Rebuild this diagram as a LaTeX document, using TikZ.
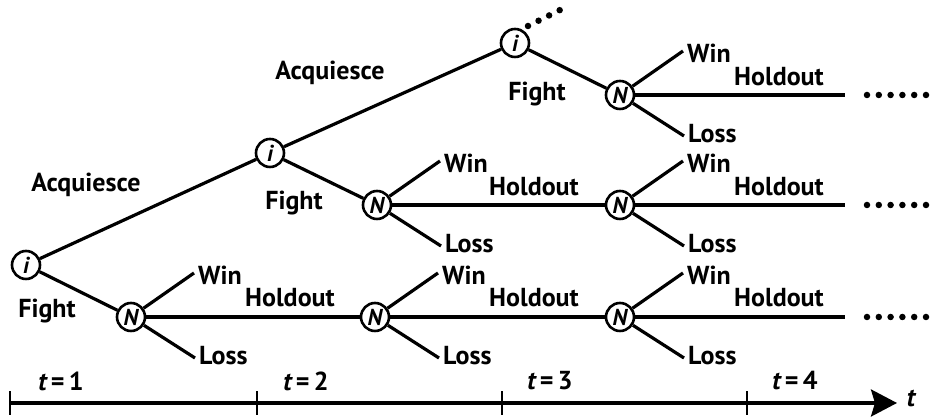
\documentclass[tikz,border=0pt]{standalone}
\usepackage{fontspec}
\setmainfont{PT Sans}
\usepackage{tikz}
\usetikzlibrary{arrows,arrows.meta,positioning}

\tikzset{
  player/.style={draw, circle, line width=2.6pt, inner sep=0pt, minimum size=28pt, font=\fontsize{23}{23}\selectfont\bfseries\itshape},
  branch/.style={line width=3.2pt},
  lab/.style={inner sep=0pt, font=\fontsize{26}{26}\selectfont\bfseries},
  more/.style={line width=6.5pt, line cap=round, dash pattern=on 0pt off 11.8pt}
}

\begin{document}
\begin{tikzpicture}[x=1pt,y=1pt]
  \useasboundingbox (0,0) rectangle (930,419);
  % decision nodes of i
  \node [player] (i1) at (26,154) {i};
  \node [player] (i2) at (270,266) {i};
  \node [player] (i3) at (515,376) {i};
  % nature nodes
  \node [player] (n1) at (131,102) {N};
  \node [player] (n2) at (377,214) {N};
  \node [player] (n3) at (375,102) {N};
  \node [player] (n4) at (620,324) {N};
  \node [player] (n5) at (620,214) {N};
  \node [player] (n6) at (620,102) {N};

  % acquiesce / fight
  \draw [branch] (i1) -- (i2);
  \draw [branch] (i2) -- (i3);
  \draw [branch] (i1) -- (n1);
  \draw [branch] (i2) -- (n2);
  \draw [branch] (i3) -- (n4);
  \node [lab] at (86,234) {Acquiesce};
  \node [lab] at (330,346) {Acquiesce};
  \node [lab] at (47,108) {Fight};
  \node [lab] at (294,216) {Fight};
  \node [lab] at (537,325) {Fight};

  % holdout lines
  \coordinate (e4) at (845,324);
  \coordinate (e5) at (845,214);
  \coordinate (e6) at (845,102);
  \draw [branch] (n1) -- (n3);
  \draw [branch] (n3) -- (n6);
  \draw [branch] (n2) -- (n5);
  \draw [branch] (n4) -- (e4);
  \draw [branch] (n5) -- (e5);
  \draw [branch] (n6) -- (e6);
  \node [lab] at (290,121) {Holdout};
  \node [lab] at (534,232) {Holdout};
  \node [lab] at (534,121) {Holdout};
  \node [lab] at (779,342) {Holdout};
  \node [lab] at (779,232) {Holdout};
  \node [lab] at (779,121) {Holdout};

  % win / loss
  \coordinate (w1) at (194,146);
  \coordinate (l1) at (195,61);
  \coordinate (w2) at (440,258);
  \coordinate (l2) at (441,173);
  \coordinate (w3) at (438,146);
  \coordinate (l3) at (439,61);
  \coordinate (w4) at (683,368);
  \coordinate (l4) at (684,283);
  \coordinate (w5) at (683,258);
  \coordinate (l5) at (684,173);
  \coordinate (w6) at (683,146);
  \coordinate (l6) at (684,61);
  \draw [branch] (n1) -- (w1);
  \draw [branch] (n1) -- (l1);
  \draw [branch] (n2) -- (w2);
  \draw [branch] (n2) -- (l2);
  \draw [branch] (n3) -- (w3);
  \draw [branch] (n3) -- (l3);
  \draw [branch] (n4) -- (w4);
  \draw [branch] (n4) -- (l4);
  \draw [branch] (n5) -- (w5);
  \draw [branch] (n5) -- (l5);
  \draw [branch] (n6) -- (w6);
  \draw [branch] (n6) -- (l6);
  \node [lab, anchor=west] at ([xshift=4pt,yshift=-2pt]w1) {Win};
  \node [lab, anchor=west] at ([xshift=4pt,yshift=2pt]l1) {Loss};
  \node [lab, anchor=west] at ([xshift=4pt,yshift=-2pt]w2) {Win};
  \node [lab, anchor=west] at ([xshift=4pt,yshift=2pt]l2) {Loss};
  \node [lab, anchor=west] at ([xshift=4pt,yshift=-2pt]w3) {Win};
  \node [lab, anchor=west] at ([xshift=4pt,yshift=2pt]l3) {Loss};
  \node [lab, anchor=west] at ([xshift=4pt,yshift=-2pt]w4) {Win};
  \node [lab, anchor=west] at ([xshift=4pt,yshift=2pt]l4) {Loss};
  \node [lab, anchor=west] at ([xshift=4pt,yshift=-2pt]w5) {Win};
  \node [lab, anchor=west] at ([xshift=4pt,yshift=2pt]l5) {Loss};
  \node [lab, anchor=west] at ([xshift=4pt,yshift=-2pt]w6) {Win};
  \node [lab, anchor=west] at ([xshift=4pt,yshift=2pt]l6) {Loss};

  % continuation dots
  \draw [more] (867,324) -- (927,324);
  \draw [more] (867,214) -- (927,214);
  \draw [more] (867,102) -- (927,102);
  \draw [more] (528,393) -- (570,414);

  % time axis
  \coordinate (t0) at (10,16);
  \coordinate (tend) at (897,16);
  \draw [line width=3.2pt, -{Stealth[length=26pt,width=27pt,inset=4pt]}] (t0) -- (tend);
  \draw [line width=2.2pt] (10,4) -- (10,28);
  \draw [line width=2.2pt] (257,4) -- (257,28);
  \draw [line width=2.2pt] (502,4) -- (502,28);
  \draw [line width=2.2pt] (747,4) -- (747,28);
  \node [lab] at (911,21) {\itshape t};
  \node [lab] at (61,38) {{\itshape t}\,=\,1};
  \node [lab] at (306,38) {{\itshape t}\,=\,2};
  \node [lab] at (550,38) {{\itshape t}\,=\,3};
  \node [lab] at (795,38) {{\itshape t}\,=\,4};
\end{tikzpicture}
\end{document}
